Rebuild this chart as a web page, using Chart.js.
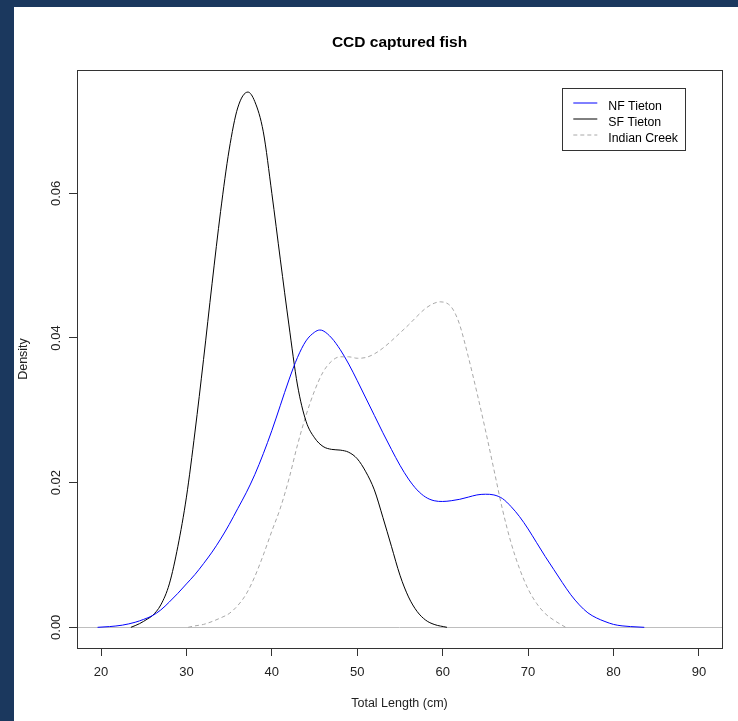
<!DOCTYPE html>
<html><head><meta charset="utf-8">
<script src="https://cdn.jsdelivr.net/npm/chart.js@4/dist/chart.umd.min.js"></script>
<style>
html,body{margin:0;padding:0;background:#1b385e;width:738px;height:721px;overflow:hidden}
#panel{position:absolute;left:14px;top:7px;width:724px;height:714px;background:#fff}
canvas{display:block}
</style></head><body>
<div id="panel"><canvas id="c" width="724" height="714"></canvas></div>
<script>
const chartTitle = 'CCD captured fish';
const xTitle = 'Total Length (cm)';
const yTitle = 'Density';
const seriesNames = ['NF Tieton', 'SF Tieton', 'Indian Creek'];
const xTicks = [20, 30, 40, 50, 60, 70, 80, 90];
const yTicks = [0, 0.02, 0.04, 0.06];
const yTickLabels = ['0.00', '0.02', '0.04', '0.06'];

const nfX = [19.6, 21, 22.5, 24, 25, 26, 27, 28, 29, 30, 31, 32, 33, 34, 35, 36, 37, 38, 39, 40, 41, 42, 43, 44, 45, 45.6, 46, 47, 48, 49, 50, 51, 52, 53, 54, 55, 56, 57, 58, 59, 60, 61, 62, 63, 64, 65, 66, 67, 68, 69, 70, 71, 72, 73, 74, 75, 76, 77, 78, 79, 80, 81, 82, 83.6];
const nfY = [0, 0.0001, 0.0003, 0.0007, 0.0011, 0.0016, 0.0024, 0.0035, 0.0047, 0.0060, 0.0073, 0.0088, 0.0104, 0.0122, 0.0142, 0.0164, 0.0186, 0.0211, 0.0240, 0.0272, 0.0307, 0.0342, 0.0373, 0.0396, 0.0408, 0.0411, 0.0410, 0.0400, 0.0384, 0.0364, 0.0341, 0.0317, 0.0293, 0.0269, 0.0246, 0.0224, 0.0205, 0.0190, 0.0180, 0.0175, 0.0174, 0.0175, 0.0177, 0.0180, 0.0183, 0.0184, 0.0183, 0.0178, 0.0167, 0.0153, 0.0136, 0.0117, 0.0098, 0.0080, 0.0062, 0.0045, 0.0031, 0.0020, 0.0013, 0.0008, 0.0004, 0.0002, 0.0001, 0];

const sfX = [23.5, 24.5, 25.5, 26, 27, 28, 29, 30, 31, 32, 33, 34, 35, 36, 37.2, 38, 39, 40, 41, 42, 43, 44, 45, 46, 47, 48, 49, 50, 51, 52, 53, 54, 55, 56, 57, 58, 59, 60.5];
const sfY = [0, 0.0005, 0.0012, 0.0016, 0.0031, 0.0060, 0.0112, 0.0180, 0.0270, 0.0370, 0.0475, 0.0575, 0.0660, 0.0718, 0.0740, 0.0727, 0.0685, 0.0600, 0.0508, 0.0418, 0.0335, 0.0285, 0.0262, 0.0250, 0.0246, 0.0245, 0.0242, 0.0233, 0.0215, 0.0190, 0.0152, 0.0112, 0.0072, 0.0042, 0.0022, 0.0010, 0.0004, 0];

const icX = [30.2, 31, 32, 33, 34, 35, 36, 37, 38, 39, 40, 41, 42, 43, 44, 45, 46, 47, 48, 49, 50, 51, 52, 53, 54, 55, 56, 57, 58, 59, 59.7, 60.5, 61, 61.5, 62, 63, 64, 65, 66, 67, 68, 69, 70, 71, 72, 73, 74.4];
const icY = [0, 0.0002, 0.0004, 0.0008, 0.0013, 0.0019, 0.0030, 0.0046, 0.0070, 0.0100, 0.0133, 0.0165, 0.0205, 0.0252, 0.0293, 0.0327, 0.0353, 0.0368, 0.0374, 0.0374, 0.0372, 0.0373, 0.0378, 0.0386, 0.0396, 0.0407, 0.0418, 0.0430, 0.0441, 0.0448, 0.0450, 0.0448, 0.0443, 0.0433, 0.0418, 0.0374, 0.0325, 0.0273, 0.0218, 0.0163, 0.0117, 0.0081, 0.0053, 0.0033, 0.0019, 0.0010, 0];

const toPts = (xs, ys) => xs.map((x, i) => ({x: x, y: ys[i]}));

const FONT = '"Liberation Sans", Arial, sans-serif';

const decor = {
  id: 'decor',
  beforeDatasetsDraw(chart) {
    const {ctx, chartArea: a, scales} = chart;
    const y0 = Math.round(scales.y.getPixelForValue(0)) + 0.5;
    ctx.save();
    ctx.strokeStyle = '#bebebe';
    ctx.lineWidth = 1;
    ctx.beginPath();
    ctx.moveTo(a.left, y0);
    ctx.lineTo(a.right, y0);
    ctx.stroke();
    ctx.restore();
  },
  afterDraw(chart) {
    const {ctx, chartArea: a, scales} = chart;
    ctx.save();
    ctx.strokeStyle = '#333';
    ctx.lineWidth = 1;
    const l = Math.round(a.left) + 0.5, t = Math.round(a.top) + 0.5;
    const r = Math.round(a.right) + 0.5, b = Math.round(a.bottom) + 0.5;
    ctx.strokeRect(l, t, r - l, b - t);
    ctx.fillStyle = '#222';
    ctx.font = '13px ' + FONT;
    ctx.textAlign = 'center';
    ctx.textBaseline = 'alphabetic';
    yTicks.forEach((v, i) => {
      const py = scales.y.getPixelForValue(v);
      ctx.save();
      ctx.translate(46, py);
      ctx.rotate(-Math.PI / 2);
      ctx.fillText(yTickLabels[i], 0, 0);
      ctx.restore();
    });
    ctx.fillStyle = '#000';
    ctx.font = 'bold 15.5px ' + FONT;
    ctx.textAlign = 'center';
    ctx.fillText(chartTitle, (a.left + a.right) / 2, 39.7);
    ctx.fillStyle = '#fff';
    ctx.fillRect(548.5, 81.5, 123, 62);
    ctx.strokeStyle = '#333';
    ctx.strokeRect(548.5, 81.5, 123, 62);
    ctx.font = '12.3px ' + FONT;
    ctx.textAlign = 'left';
    chart.data.datasets.forEach((ds, i) => {
      const ly = 96 + i * 16;
      ctx.strokeStyle = ds.borderColor;
      ctx.setLineDash(ds.borderDash || []);
      ctx.beginPath();
      ctx.moveTo(559.3, ly);
      ctx.lineTo(583.3, ly);
      ctx.stroke();
      ctx.setLineDash([]);
      ctx.fillStyle = '#000';
      ctx.fillText(ds.label, 594.3, 102.5 + i * 16);
    });
    ctx.restore();
  }
};

new Chart(document.getElementById('c'), {
  type: 'line',
  data: {
    datasets: [
      {label: seriesNames[0], data: toPts(nfX, nfY), borderColor: '#0000ff', borderWidth: 1, pointRadius: 0, fill: false, cubicInterpolationMode: 'monotone'},
      {label: seriesNames[1], data: toPts(sfX, sfY), borderColor: '#000000', borderWidth: 1, pointRadius: 0, fill: false, cubicInterpolationMode: 'monotone'},
      {label: seriesNames[2], data: toPts(icX, icY), borderColor: '#a8a8a8', borderDash: [4, 3], borderWidth: 1, pointRadius: 0, fill: false, cubicInterpolationMode: 'monotone'}
    ]
  },
  options: {
    responsive: false,
    animation: false,
    events: [],
    devicePixelRatio: 1,
    layout: {padding: {top: 63, right: 16, left: 0, bottom: 0}},
    plugins: {legend: {display: false}, title: {display: false}, tooltip: {enabled: false}},
    scales: {
      x: {
        type: 'linear',
        min: 17.19,
        max: 92.7,
        afterBuildTicks: s => { s.ticks = xTicks.map(v => ({value: v})); },
        afterFit: s => { s.height = 73; },
        grid: {drawOnChartArea: false, drawTicks: true, tickLength: 8, color: '#333'},
        border: {display: false},
        ticks: {font: {family: FONT, size: 13}, color: '#222', padding: 9, maxRotation: 0, autoSkip: false},
        title: {display: true, text: xTitle, font: {family: FONT, size: 12.5}, color: '#222', padding: {top: 0, bottom: 10}}
      },
      y: {
        type: 'linear',
        min: -0.00286,
        max: 0.07705,
        afterBuildTicks: s => { s.ticks = yTicks.map(v => ({value: v})); },
        afterFit: s => { s.width = 63; },
        grid: {drawOnChartArea: false, drawTicks: true, tickLength: 8, color: '#333'},
        border: {display: false},
        ticks: {callback: () => '', font: {family: FONT, size: 13}},
        title: {display: true, text: yTitle, font: {family: FONT, size: 12.5}, color: '#222', padding: {top: 2, bottom: 0}}
      }
    }
  },
  plugins: [decor]
});
</script>
</body></html>
